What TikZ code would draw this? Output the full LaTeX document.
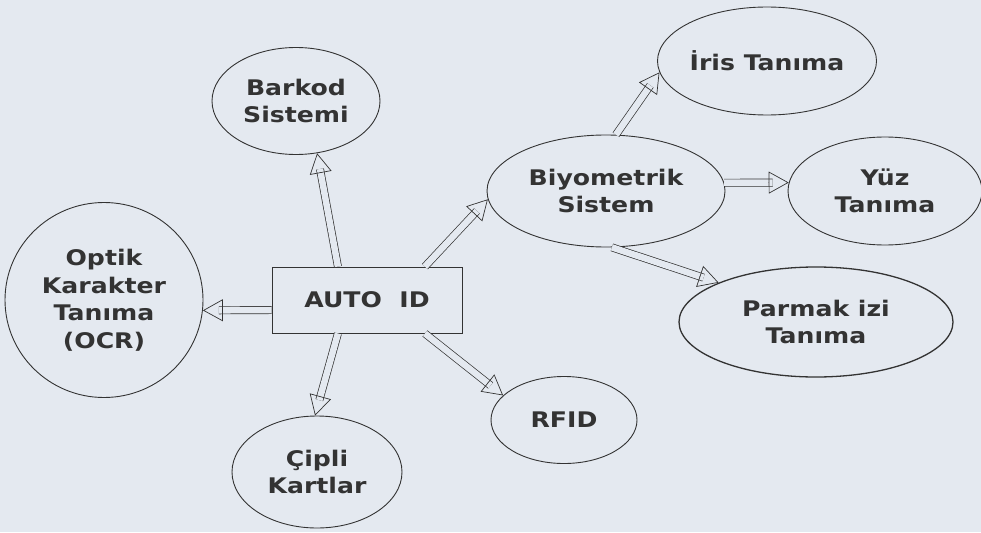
\documentclass[tikz,border=0pt]{standalone}
\usepackage{fontspec}
\setsansfont{DejaVu Sans}[FakeStretch=1.17]
\usetikzlibrary{shapes.geometric, arrows.meta, calc}

\definecolor{paper}{HTML}{E4E9F0}
\definecolor{ink}{HTML}{333333}
\newcommand\diagfont{\sffamily\bfseries\fontsize{21.5}{27.5}\selectfont}

\tikzset{
  oval/.style={draw=ink, ellipse, line width=0.9pt, inner sep=-8pt, align=center, text=ink, font=\diagfont},
  shaft/.style={draw=ink, line width=0.7pt, double=paper, double distance=6.5pt, shorten >=16pt},
  head/.style={draw=ink, line width=0.7pt, -{Triangle[open, length=20pt, width=22pt]}},
}

% hollow block arrow: double shaft plus open head
\newcommand\hollowarrow[2]{%
  \draw[shaft] (#1) -- (#2);
  \draw[head] ($(#2)!20pt!(#1)$) -- (#2);
}

\begin{document}
\begin{tikzpicture}[x=1pt, y=-1pt]
    \fill[paper] (0,0) rectangle (981,532);
    \useasboundingbox (0,0) rectangle (981,532);

    \node[draw=ink, line width=0.9pt, minimum width=190pt, minimum height=66pt, text=ink, font=\diagfont] (auto) at (367,300) {AUTO\ \ ID};

    \node[oval, minimum width=168pt, minimum height=107pt] (barkod) at (296,101) {Barkod\\Sistemi};
    \node[oval, minimum width=198pt, minimum height=195pt] (ocr) at (104,300) {Optik\\Karakter\\Tanıma\\(OCR)};
    \node[oval, minimum width=170pt, minimum height=112pt] (cipli) at (317,472) {Çipli\\Kartlar};
    \node[oval, minimum width=146pt, minimum height=87pt] (rfid) at (564,420) {RFID};
    \node[oval, minimum width=238pt, minimum height=112pt] (biyo) at (606,191) {Biyometrik\\Sistem};

    \node[oval, minimum width=219pt, minimum height=108pt] (iris) at (767,61) {İris Tanıma};
    \node[oval, minimum width=194pt, minimum height=108pt] (yuz) at (885,191) {Yüz\\Tanıma};
    \node[oval, line width=1.3pt, minimum width=274pt, minimum height=110pt] (parmak) at (816,322) {Parmak izi\\Tanıma};

    \hollowarrow{auto.131}{barkod.292}
    \hollowarrow{auto.186}{ocr.354}
    \hollowarrow{auto.229}{cipli.92}
    \hollowarrow{auto.330}{rfid.158}
    \hollowarrow{auto.30}{biyo.184}

    \hollowarrow{biyo.80}{iris.186}
    \hollowarrow{biyo.4}{yuz.175}
    \hollowarrow{biyo.276}{parmak.158}
\end{tikzpicture}
\end{document}
